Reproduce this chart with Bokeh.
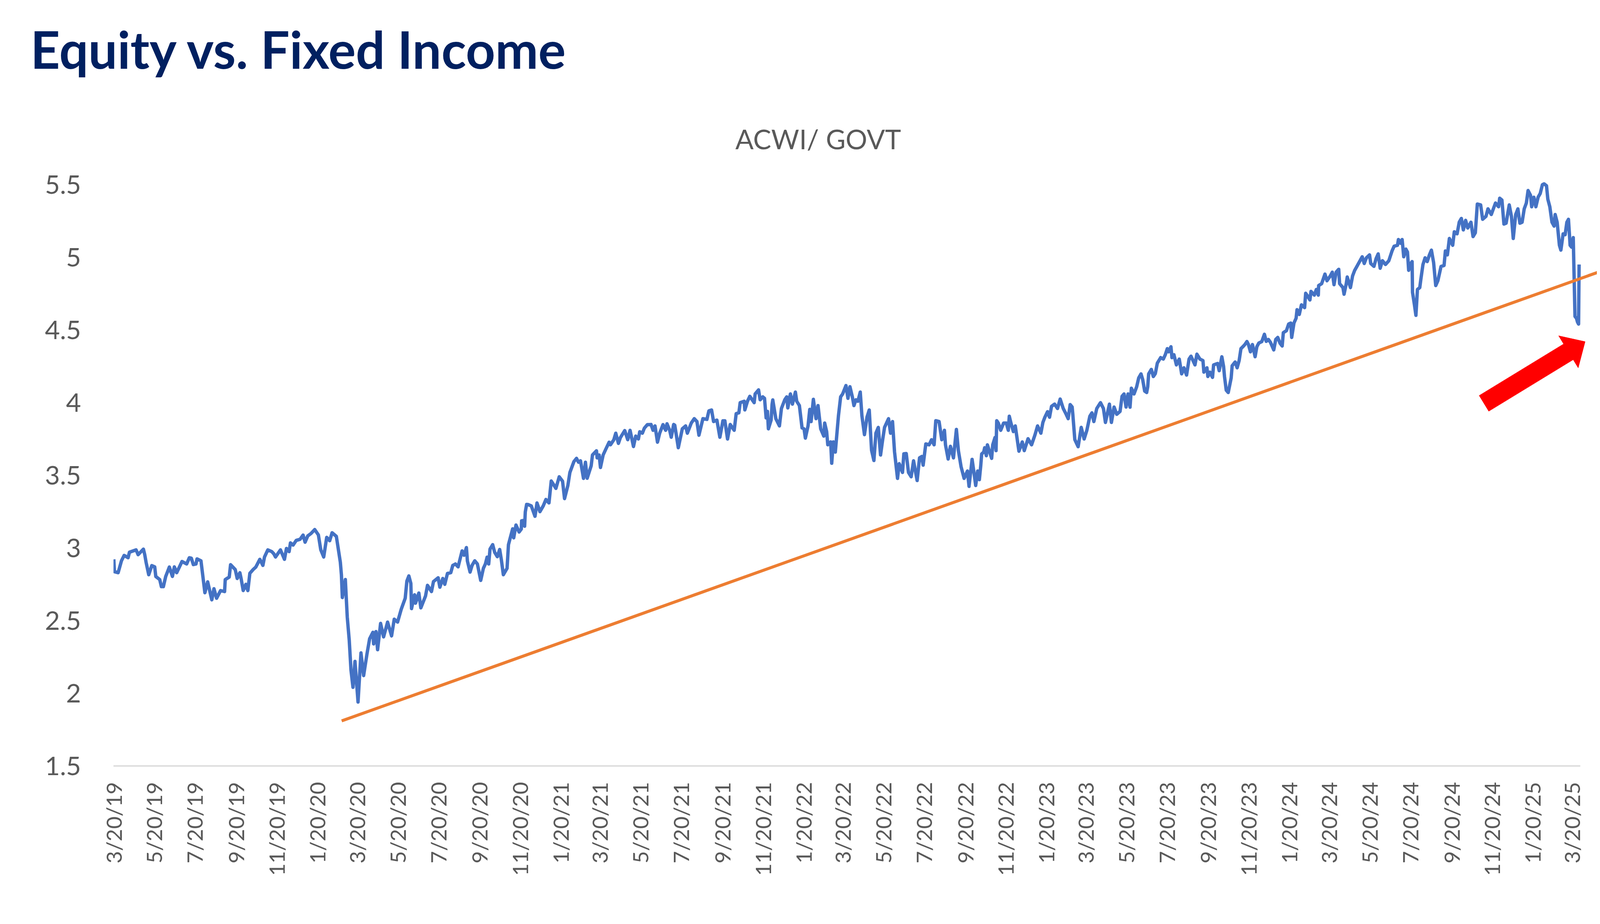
import numpy as np
import pandas as pd
from datetime import datetime
from bokeh.plotting import figure
from bokeh.models import FixedTicker, CustomJSTickFormatter, Range1d, Title
from bokeh.core.properties import value
from bokeh.embed import file_html
from bokeh.resources import INLINE

chart_title = "Equity vs. Fixed Income"
series_name = "ACWI/ GOVT"
start_date = "2019-03-20"
end_date = "2025-04-27"
axis_end_date = "2025-04-02"

# days after 3/20/19 and the ACWI/GOVT ratio
day_offsets = [
    0.5, 1.5, 7, 12, 16, 22, 24, 34, 37, 45, 47, 49, 53, 57.6, 62, 63.6, 69.5, 72, 75, 78.5,
    84, 88.6, 91.5, 95, 103, 110, 114, 117, 120, 124, 125.6, 131.5, 137.4, 141.6, 147.8, 151, 155, 161, 167, 168,
    174, 176, 183, 186, 190, 192, 195, 199, 202, 205, 210, 214, 220, 224.6, 227, 232, 238, 241, 243.6, 251,
    257, 260, 264, 266, 270, 274.6, 280.5, 285, 288, 292, 297, 302.5, 308, 311.6, 316, 320.5, 325, 328.6, 335, 341,
    342.6, 344, 348.5, 351.4, 354.4, 357, 360, 363, 367.6, 372, 376, 381, 385, 390, 391, 394.6, 397, 401.5, 406, 412,
    418, 422, 427, 432.5, 438.5, 441,
    444, 447, 448, 452.6, 454, 459, 462, 469, 472, 478, 481, 488, 490.6, 495, 498, 502, 507, 510, 514, 518,
    524, 527, 530.5, 532, 536, 539, 543, 547, 552, 556, 559, 561.6, 564, 566, 570, 573, 577, 580.5, 583, 586,
    591.6, 593.7, 597, 600, 601.6, 605, 609.7, 613, 613.5, 617, 618, 619, 621,
    623, 628, 633.6, 636.6, 641, 646, 650, 654.6, 658, 661, 665, 670, 675, 678, 683, 686, 692, 696, 699, 702,
    706.5, 709.4, 712, 718, 720, 726, 727, 730, 732, 736, 740, 745, 747, 752, 755, 759, 762, 768.5, 773, 776.5,
    781.6, 785, 789, 791, 795, 798, 802.5, 805, 808, 811, 814, 817.7, 821, 826, 830, 832, 836, 838.4, 842,
    843.7, 849, 855, 860, 862.6, 868.5, 873, 877, 880, 886, 892, 895, 899, 902, 907, 911.5, 916, 919, 923, 927,
    933, 936, 940, 942, 948, 949, 953, 956.5, 963, 964.5, 969.6, 972, 976, 978.6, 981, 983, 984.4, 988.5, 990, 991,
    995.6, 1001, 1004, 1009, 1012, 1013.6, 1017.5, 1020.5, 1025, 1027, 1031, 1035, 1038, 1040, 1044, 1046.6, 1048.6,
    1052, 1056, 1059, 1063, 1067.7, 1069, 1072, 1073.7, 1078, 1079.6, 1082, 1085, 1089.7, 1093, 1096, 1101, 1104,
    1107, 1110.6, 1113, 1116, 1119, 1122.5, 1125, 1128.8, 1132.6, 1136, 1139.5, 1143, 1146, 1149.6, 1153, 1156,
    1159, 1165, 1168, 1171, 1174, 1178.5, 1181, 1186, 1188, 1191.6, 1195, 1199, 1202.6, 1208, 1211.6, 1215, 1217,
    1221, 1226, 1229.6, 1233.5, 1236, 1241, 1245, 1249, 1250.6, 1254.6, 1258, 1262.6, 1267, 1270, 1274, 1278.6,
    1283.6, 1286, 1290.6, 1294,
    1296, 1299, 1301.5, 1303.6, 1305, 1308, 1309.5, 1312, 1313.6, 1320, 1321.6, 1325, 1326.6, 1327.6, 1330, 1333.6,
    1338, 1342, 1345, 1346.5, 1349, 1352.6, 1355.5, 1361, 1366, 1369, 1374.7, 1380, 1385, 1389, 1394, 1397, 1400,
    1404, 1407, 1410, 1414.6, 1419, 1423, 1427.6, 1432, 1435, 1438, 1441, 1442, 1445, 1450, 1454.6, 1459, 1463,
    1467.6, 1470.7, 1473.6, 1478, 1483.6, 1488, 1491, 1497, 1500, 1504, 1508, 1513, 1516, 1519, 1522, 1525, 1528,
    1530, 1534, 1538, 1541, 1544.5, 1547, 1550, 1553, 1554.6, 1556, 1560, 1563, 1566, 1569, 1574, 1578, 1581, 1584,
    1586, 1589.5, 1591, 1594, 1597.7, 1602, 1605.6, 1609, 1613, 1616.7, 1619.6, 1625.6, 1628.5, 1633, 1637.6, 1639,
    1643.6, 1645, 1648, 1652, 1653.6, 1659.6, 1662, 1666, 1668.6, 1670, 1672.6, 1675.6, 1680, 1681.5, 1686, 1689,
    1692, 1694.7, 1697.6, 1700.6, 1703.7, 1706, 1709, 1712, 1716, 1718.6, 1721.5, 1726, 1730,
    1732.7, 1736, 1739, 1744, 1747, 1750, 1753.5, 1756.7, 1758.4, 1763, 1766.4, 1769.6, 1771, 1774.4, 1777.6, 1779,
    1782.4, 1785.6, 1790.4, 1792, 1795, 1798.4, 1800, 1805, 1808, 1811, 1811.5, 1816, 1821, 1824, 1829, 1832, 1834.6,
    1837.8, 1841.7, 1843, 1848, 1849.7, 1853, 1854.5, 1859.3, 1862.5, 1865.7, 1869, 1873.7, 1877, 1880, 1883.3, 1888,
    1889.8, 1894.6, 1897.8, 1901, 1904, 1907.4, 1912, 1917, 1921.8, 1925, 1930, 1931.4, 1934.6, 1937, 1939.4, 1942.6,
    1945, 1946.8, 1949, 1952, 1952.6, 1955.5, 1957.7, 1960, 1963.5, 1965, 1968.3, 1971.5, 1974.7, 1978, 1981, 1984.3,
    1987.5, 1990.7, 1995.5, 2000, 2002, 2005, 2008, 2013, 2015.4, 2019.6, 2022.8, 2026, 2029, 2032.4, 2035.6, 2040.4,
    2043.6, 2047, 2050, 2055, 2058, 2063, 2066, 2071, 2077.3, 2082, 2083.6, 2087, 2090, 2093.3, 2098, 2101.3, 2104,
    2107.7, 2111, 2114, 2117.3, 2120.5, 2123.7, 2126.3, 2130, 2131.7, 2135, 2138, 2141.4, 2144.6, 2147.8, 2150.3, 2154,
    2156, 2159, 2162.2, 2165.4, 2167, 2170, 2173.4, 2175.6, 2179, 2182, 2184.6, 2187, 2189.5, 2191.7, 2194.2, 2196.8,
    2199, 2200.6, 2202.2, 2203,
]

ratio_values = [
    2.922, 2.837, 2.83, 2.912, 2.949, 2.933, 2.971, 2.987, 2.954, 2.992, 2.954, 2.902, 2.816, 2.879, 2.87, 2.804, 2.783, 2.734, 2.734, 2.804,
    2.869, 2.804, 2.87, 2.83, 2.907, 2.89, 2.933, 2.93, 2.886, 2.89, 2.925, 2.912, 2.692, 2.767, 2.643, 2.72, 2.654, 2.707, 2.70, 2.783,
    2.80, 2.885, 2.852, 2.79, 2.83, 2.786, 2.707, 2.75, 2.707, 2.826, 2.852, 2.869, 2.922, 2.88, 2.938, 2.987, 2.975, 2.96, 2.938, 2.987,
    2.922, 2.997, 2.975, 3.035, 3.02, 3.052, 3.06, 3.089, 3.04, 3.083, 3.10, 3.127, 3.09, 2.987, 2.938, 3.073, 3.05, 3.105, 3.08, 2.902,
    2.816, 2.659, 2.783, 2.525, 2.364, 2.16, 2.041, 2.22, 1.94, 2.278, 2.122, 2.27, 2.375, 2.42, 2.34, 2.425, 2.30, 2.481, 2.388, 2.49,
    2.395, 2.51, 2.49, 2.578, 2.654, 2.772,
    2.808, 2.756, 2.583, 2.678, 2.62, 2.69, 2.588, 2.669, 2.743, 2.70, 2.769, 2.795, 2.73, 2.79, 2.75, 2.825, 2.83, 2.88, 2.89, 2.87,
    2.98, 2.95, 3.003, 2.91, 2.834, 2.88, 2.912, 2.89, 2.777, 2.86, 2.89, 2.937, 2.89, 2.993, 3.023, 2.97, 2.94, 2.99, 2.92, 2.816,
    2.86, 3.023, 3.08, 3.132, 3.07, 3.158, 3.11, 3.13, 3.187, 3.19, 3.15, 3.248, 3.30,
    3.299, 3.29, 3.218, 3.31, 3.25, 3.29, 3.334, 3.31, 3.461, 3.44, 3.41, 3.49, 3.46, 3.34, 3.43, 3.519, 3.594, 3.617, 3.59, 3.60,
    3.479, 3.59, 3.48, 3.565, 3.64, 3.669, 3.62, 3.64, 3.554, 3.64, 3.68, 3.728, 3.71, 3.744, 3.79, 3.72, 3.76, 3.808, 3.745, 3.81,
    3.698, 3.77, 3.75, 3.80, 3.79, 3.825, 3.849, 3.849, 3.85, 3.81, 3.84, 3.728, 3.79, 3.849, 3.81, 3.855, 3.81, 3.762, 3.85,
    3.845, 3.69, 3.82, 3.84, 3.79, 3.86, 3.89, 3.87, 3.776, 3.89, 3.885, 3.944, 3.95, 3.87, 3.88, 3.762, 3.875, 3.875, 3.75, 3.85,
    3.81, 3.925, 3.93, 4.0, 4.01, 3.95, 4.01, 4.044, 4.0, 4.06, 4.088, 4.02, 4.04, 4.03, 3.895, 3.94, 3.82, 3.88, 3.99, 4.019,
    3.89, 3.84, 3.96, 4.02, 4.04, 3.964, 4.06, 3.99, 4.073, 4.01, 3.98, 3.826, 3.82, 3.756, 3.84, 3.954, 3.87,
    4.023, 3.89, 3.98, 3.82, 3.77, 3.86, 3.80, 3.71, 3.73, 3.583, 3.73, 3.66, 3.909, 4.04, 4.06, 4.118, 4.03,
    4.11, 4.04, 3.98, 4.02, 4.01, 4.073, 3.909, 3.78, 3.90, 3.95, 3.672, 3.602, 3.79, 3.83, 3.64, 3.74,
    3.83, 3.89, 3.79, 3.87, 3.662, 3.479, 3.58, 3.52, 3.648, 3.65, 3.52, 3.49, 3.60, 3.464, 3.62, 3.63, 3.57,
    3.716, 3.71, 3.745, 3.71, 3.876, 3.87, 3.745, 3.81, 3.71, 3.612, 3.70, 3.62, 3.816, 3.67, 3.56, 3.479,
    3.53, 3.424, 3.61, 3.50,
    3.43, 3.53, 3.47, 3.566, 3.647, 3.66, 3.69, 3.635, 3.71, 3.617, 3.71, 3.76, 3.67, 3.876, 3.86, 3.81,
    3.86, 3.86, 3.81, 3.907, 3.86, 3.801, 3.84, 3.666, 3.73, 3.67, 3.752, 3.71, 3.777, 3.84, 3.79, 3.864, 3.90,
    3.938, 3.90, 3.975, 3.99, 3.96, 4.025, 3.96, 3.92, 3.89, 3.987, 3.97, 3.92, 3.746, 3.697, 3.83, 3.75, 3.808,
    3.907, 3.93, 3.87, 3.96, 4.0, 3.96, 3.864, 3.99, 3.864, 3.97, 3.92, 3.94, 4.044, 4.06, 3.97, 4.06, 3.969,
    4.10, 4.06, 4.11, 4.17, 4.198, 4.16, 4.08, 4.07, 4.11, 4.198, 4.229, 4.18, 4.20, 4.272, 4.31, 4.30, 4.33, 4.372,
    4.35, 4.385, 4.31, 4.33, 4.26, 4.30, 4.198, 4.24, 4.19, 4.30, 4.32, 4.26, 4.334, 4.30, 4.29, 4.21,
    4.24, 4.18, 4.21, 4.174, 4.26, 4.27, 4.22, 4.316, 4.25, 4.18, 4.086, 4.07, 4.17, 4.254, 4.28, 4.24,
    4.29, 4.372, 4.385, 4.40, 4.421, 4.40, 4.35, 4.40, 4.316, 4.385, 4.41, 4.42, 4.471,
    4.422, 4.435, 4.416, 4.363, 4.435, 4.449, 4.409, 4.39, 4.482, 4.495, 4.541, 4.548, 4.449, 4.548, 4.581, 4.64,
    4.607, 4.673, 4.654, 4.753, 4.733, 4.707, 4.766, 4.74, 4.779, 4.74, 4.806, 4.819, 4.885, 4.839, 4.872, 4.898, 4.812,
    4.898, 4.918, 4.819, 4.792, 4.746, 4.819, 4.865, 4.792, 4.872, 4.911, 4.938, 4.977, 5.004, 4.958, 4.997, 5.017,
    4.958, 4.938, 4.991, 5.024, 4.925, 4.977, 4.951, 4.977, 5.044, 5.077, 5.083, 5.123, 5.097, 5.123, 5.004, 5.057,
    5.037, 4.911, 4.951, 4.971, 4.759, 4.673, 4.601, 4.779, 4.792, 4.845, 4.951, 4.997, 4.971, 5.017, 5.05, 4.964,
    4.806, 4.839, 4.938, 4.944, 5.044, 5.017, 5.13, 5.083, 5.176, 5.162, 5.242, 5.268, 5.189, 5.255, 5.202, 5.242,
    5.143, 5.169, 5.367, 5.361, 5.262, 5.282, 5.334, 5.295, 5.374, 5.348, 5.407, 5.394, 5.229, 5.235, 5.361, 5.282, 5.13,
    5.295, 5.334, 5.235, 5.242, 5.334, 5.374, 5.46, 5.427, 5.348, 5.414, 5.348, 5.414, 5.44, 5.5, 5.506, 5.493,
    5.40, 5.348, 5.242, 5.215, 5.295, 5.242, 5.083, 5.05, 5.162, 5.156, 5.242, 5.262, 5.083, 5.07, 5.136, 4.594,
    4.581, 4.555, 4.541, 4.951,
]

tick_labels = [
    "3/20/19", "5/20/19", "7/20/19", "9/20/19", "11/20/19", "1/20/20", "3/20/20", "5/20/20", "7/20/20",
    "9/20/20", "11/20/20", "1/20/21", "3/20/21", "5/20/21", "7/20/21", "9/20/21", "11/20/21", "1/20/22",
    "3/20/22", "5/20/22", "7/20/22", "9/20/22", "11/20/22", "1/20/23", "3/20/23", "5/20/23", "7/20/23",
    "9/20/23", "11/20/23", "1/20/24", "3/20/24", "5/20/24", "7/20/24", "9/20/24", "11/20/24", "1/20/25",
    "3/20/25",
]
y_ticks = [1.5, 2, 2.5, 3, 3.5, 4, 4.5, 5, 5.5]

# hand-drawn support line and red arrow (data coordinates)
trend_dates = ["2020-02-26", "2025-05-03"]
trend_values = [1.81, 4.905]
arrow_dates = ["2024-11-08", "2025-04-09"]   # tail, tip
arrow_values = [3.995, 4.42]

# ---------------------------------------------------------------
# layout geometry: targets in screenshot pixels, converted to CSS pixels
F = 1.0405
def css(v):
    return v / F

MARGIN = 8
W = int(4271 / F) - 2 * MARGIN
H = int(2365 / F) - 2 * MARGIN

title_size = css(137)
title_standoff = round(css(82))
title_box = 1.2 * title_size
B_TOP = round(2 + title_box + title_standoff + 4)
B_LEFT = round(css(310) - MARGIN)
B_BOTTOM = round(MARGIN + H - css(2048))
B_RIGHT = round(MARGIN + W - css(4263))
frame_left = MARGIN + B_LEFT
frame_bottom = MARGIN + H - B_BOTTOM
frame_w = W - B_LEFT - B_RIGHT
frame_h = H - B_TOP - B_BOTTOM
px_per_unit = css(387)
y_lo = 1.5
y_hi = y_lo + frame_h / px_per_unit

x0 = pd.Timestamp(start_date)
x1 = pd.Timestamp(end_date)
total_days = (x1 - x0) / pd.Timedelta(days=1)
px_per_day = frame_w / total_days

def page_to_data(px, py):
    return (x0 + pd.Timedelta(days=(css(px) - frame_left) / px_per_day),
            y_lo + (frame_bottom - css(py)) / px_per_unit)

dates = x0 + pd.to_timedelta(np.array(day_offsets), unit="D")

p = figure(width=W, height=H, x_axis_type="datetime",
           x_range=Range1d(x0, x1), y_range=Range1d(y_lo, y_hi),
           output_backend="svg", toolbar_location=None,
           min_border_left=B_LEFT, min_border_right=max(B_RIGHT, 0),
           min_border_top=B_TOP, min_border_bottom=B_BOTTOM)
p.outline_line_color = None
p.grid.visible = False
p.background_fill_color = "white"
p.border_fill_color = "white"

p.add_layout(Title(text=chart_title, align="left", offset=css(89) - frame_left,
                   standoff=title_standoff, vertical_align="bottom",
                   text_font="Lato", text_font_style="bold",
                   text_font_size=f"{title_size:.1f}px", text_color="#002060"), "above")

sub_x, sub_y = page_to_data(1967, 378)
p.text(x=[sub_x], y=[sub_y], text=[series_name], text_font=value("Lato"),
       text_font_size=f"{css(72):.1f}px", text_color="#595959",
       text_align="left", text_baseline="alphabetic")

p.line(dates, ratio_values, line_color="#4472C4", line_width=css(9), line_join="round")
p.line([pd.Timestamp(d) for d in trend_dates], trend_values, line_color="#ED7D31", line_width=css(8))

# arrow polygon built in screen space around the tail->tip direction
def to_px(d, v):
    return np.array([(pd.Timestamp(d) - x0) / pd.Timedelta(days=1) * px_per_day, (v - y_lo) * px_per_unit])
tail = to_px(arrow_dates[0], arrow_values[0])
tip = to_px(arrow_dates[1], arrow_values[1])
shaft_w, head_w, head_len = css(49), css(100), css(52)
u = (tip - tail) / np.linalg.norm(tip - tail)
n = np.array([-u[1], u[0]])
base = tip - u * head_len
pts = [tail + n * shaft_w / 2, base + n * shaft_w / 2, base + n * head_w / 2, tip,
       base - n * head_w / 2, base - n * shaft_w / 2, tail - n * shaft_w / 2]
ax = [x0 + pd.Timedelta(days=pt[0] / px_per_day) for pt in pts]
ay = [y_lo + pt[1] / px_per_unit for pt in pts]
p.patch(ax, ay, fill_color="#FF0000", line_color="#FF0000", line_width=1)

# x axis
tick_dates = [pd.Timestamp(datetime.strptime(s, "%m/%d/%y")) for s in tick_labels]
tick_ms = [int(t.value // 10**6) for t in tick_dates]
p.xaxis.ticker = FixedTicker(ticks=tick_ms)
p.xaxis.major_label_overrides = {ms: lbl for ms, lbl in zip(tick_ms, tick_labels)}
p.xaxis.major_label_orientation = np.pi / 2
p.xaxis.major_tick_line_color = None
p.xaxis.minor_tick_line_color = None
p.xaxis.major_tick_out = 0
p.xaxis.major_tick_in = 0
p.xaxis.axis_line_color = "#D9D9D9"
p.xaxis.axis_line_width = css(3.5)
p.xaxis.bounds = (x0, pd.Timestamp(axis_end_date))
p.xaxis.major_label_standoff = round(css(43))
p.xaxis.major_label_text_font = "Lato"
p.xaxis.major_label_text_font_size = f"{css(57):.1f}px"
p.xaxis.major_label_text_color = "#595959"

# y axis
p.yaxis.ticker = FixedTicker(ticks=y_ticks)
p.yaxis.formatter = CustomJSTickFormatter(code="return String(Math.round(tick * 10) / 10);")
p.yaxis.axis_line_color = None
p.yaxis.major_tick_line_color = None
p.yaxis.minor_tick_line_color = None
p.yaxis.major_tick_out = 0
p.yaxis.major_label_standoff = round(css(86))
p.yaxis.major_label_text_font = "Lato"
p.yaxis.major_label_text_font_size = f"{css(69):.1f}px"
p.yaxis.major_label_text_color = "#595959"

open("out.html", "w").write(file_html(p, INLINE))
